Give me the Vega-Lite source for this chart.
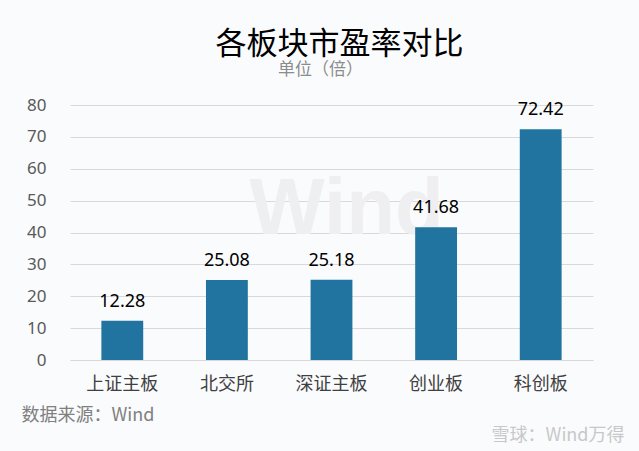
{
  "$schema": "https://vega.github.io/schema/vega-lite/v6.json",
  "width": 523,
  "height": 255,
  "autosize": "none",
  "padding": {"left": 70, "top": 105, "right": 46, "bottom": 91},
  "background": "#fafbfd",
  "config": {
    "font": "Noto Sans, Noto Sans CJK SC",
    "view": {"stroke": null}
  },
  "title": {
    "text": "各板块市盈率对比",
    "anchor": "middle",
    "dx": 8,
    "font": "Noto Sans CJK SC",
    "fontSize": 31,
    "fontWeight": "normal",
    "color": "#000000",
    "offset": 0
  },
  "data": {
    "values": [
      {"board": "上证主板", "pe": 12.28},
      {"board": "北交所", "pe": 25.08},
      {"board": "深证主板", "pe": 25.18},
      {"board": "创业板", "pe": 41.68},
      {"board": "科创板", "pe": 72.42}
    ]
  },
  "encoding": {
    "x": {
      "field": "board",
      "type": "nominal",
      "sort": null,
      "scale": {"domain": ["上证主板", "北交所", "深证主板", "创业板", "科创板"], "paddingInner": 0.6, "paddingOuter": 0.3},
      "axis": {
        "title": "数据来源：Wind",
        "titleX": -49,
        "titleY": 55,
        "titleAlign": "left",
        "titleBaseline": "middle",
        "titleFontSize": 18,
        "titleFontWeight": "normal",
        "titleColor": "#808080",
        "titleFont": "Noto Sans CJK SC, Noto Sans",
        "labelAngle": 0,
        "labelFontSize": 18,
        "labelColor": "#404040",
        "labelPadding": 15,
        "labelFont": "Noto Sans CJK SC",
        "domainColor": "#d9d9d9",
        "ticks": false,
        "grid": false
      }
    },
    "y": {
      "field": "pe",
      "type": "quantitative",
      "scale": {"domain": [0, 80], "nice": false},
      "axis": {
        "values": [0, 10, 20, 30, 40, 50, 60, 70, 80],
        "title": "雪球：Wind万得",
        "titleAngle": 0,
        "titleX": 554,
        "titleY": 330,
        "titleAlign": "right",
        "titleBaseline": "middle",
        "titleFontSize": 18,
        "titleFontWeight": "normal",
        "titleColor": "#c8c8c8",
        "titleFont": "Noto Sans CJK SC, Noto Sans",
        "labelFontSize": 17,
        "labelColor": "#595959",
        "labelPadding": 24,
        "domain": false,
        "ticks": false,
        "grid": true,
        "gridColor": "#d9d9d9"
      }
    }
  },
  "layer": [
    {
      "data": {"values": [{"wm": "Wind", "pos": "深证主板", "lvl": 47}]},
      "mark": {"type": "text", "fontSize": 80, "fontWeight": "bold", "color": "#efeff2", "baseline": "middle", "align": "center", "dx": 15, "font": "Liberation Sans"},
      "encoding": {
        "x": {"field": "pos", "type": "nominal"},
        "y": {"field": "lvl", "type": "quantitative"},
        "text": {"field": "wm"}
      }
    },
    {
      "data": {"values": [{"sub": "单位（倍）", "pos": "深证主板", "lvl": 80}]},
      "mark": {"type": "text", "fontSize": 17, "color": "#8c8c8c", "baseline": "middle", "align": "center", "dx": -11, "dy": -35, "font": "Noto Sans CJK SC"},
      "encoding": {
        "x": {"field": "pos", "type": "nominal"},
        "y": {"field": "lvl", "type": "quantitative"},
        "text": {"field": "sub"}
      }
    },
    {
      "mark": {"type": "bar", "color": "#21749f"}
    },
    {
      "mark": {"type": "text", "baseline": "alphabetic", "dy": -14, "fontSize": 18, "color": "#000000"},
      "encoding": {
        "text": {"field": "pe", "type": "quantitative", "format": ".2f"}
      }
    }
  ]
}
